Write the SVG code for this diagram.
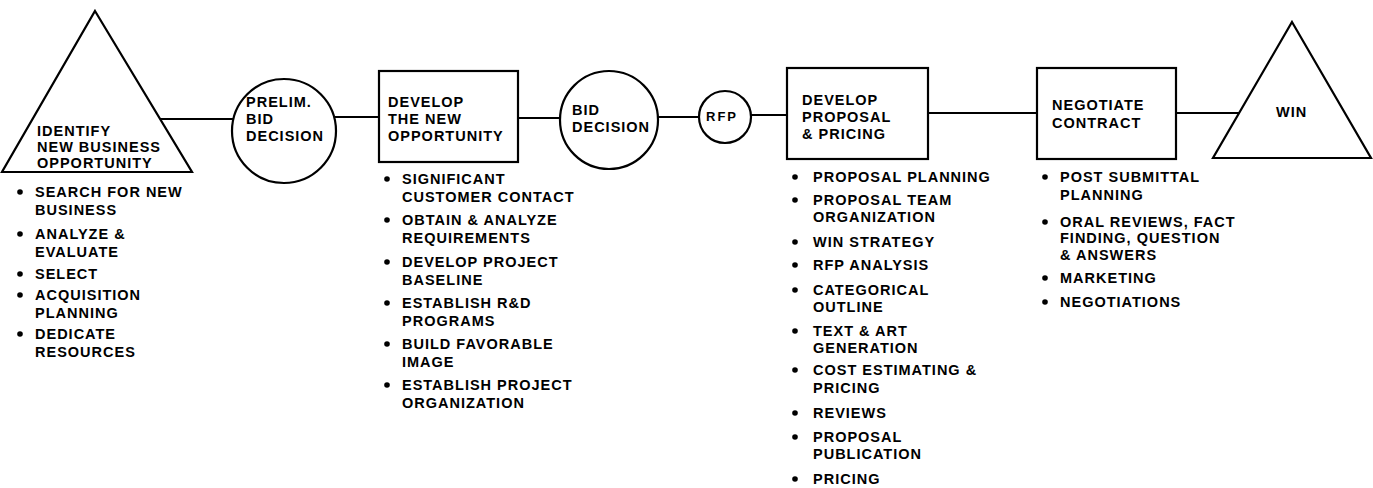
<svg xmlns="http://www.w3.org/2000/svg" width="1373" height="488" viewBox="0 0 1373 488">
<style>
.s{fill:#fff;stroke:#000;stroke-width:2.2}
.c{stroke:#000;stroke-width:2;fill:none}
text{font-family:"Liberation Sans",Arial,sans-serif;font-weight:bold;font-size:14.5px;letter-spacing:1px;fill:#000}
.b{fill:#000}
</style>
<rect width="1373" height="488" fill="#fff"/>
<g id="connectors">
<line class="c" x1="150" y1="119" x2="240" y2="119"/>
<line class="c" x1="325" y1="117" x2="380" y2="117"/>
<line class="c" x1="518" y1="118" x2="565" y2="118"/>
<line class="c" x1="650" y1="117" x2="705" y2="117"/>
<line class="c" x1="745" y1="115" x2="788" y2="115"/>
<line class="c" x1="928" y1="113" x2="1038" y2="113"/>
<line class="c" x1="1176" y1="113" x2="1245" y2="113"/>
</g>
<g id="identify">
<polygon class="s" points="95,11 192,172 2,172"/>
<text x="37" y="136">IDENTIFY</text>
<text x="37" y="152">NEW BUSINESS</text>
<text x="37" y="168">OPPORTUNITY</text>
</g>
<g id="identify-list">
<circle class="b" cx="20" cy="192" r="2.8"/><text x="35" y="197">SEARCH FOR NEW</text><text x="35" y="215">BUSINESS</text>
<circle class="b" cx="20" cy="234" r="2.8"/><text x="35" y="239">ANALYZE &amp;</text><text x="35" y="257">EVALUATE</text>
<circle class="b" cx="20" cy="274" r="2.8"/><text x="35" y="279">SELECT</text>
<circle class="b" cx="20" cy="295" r="2.8"/><text x="35" y="300">ACQUISITION</text><text x="35" y="318">PLANNING</text>
<circle class="b" cx="20" cy="334" r="2.8"/><text x="35" y="339">DEDICATE</text><text x="35" y="357">RESOURCES</text>
</g>
<g id="prelim">
<circle class="s" cx="284" cy="131" r="52"/>
<text x="246" y="107">PRELIM.</text>
<text x="246" y="124">BID</text>
<text x="246" y="141">DECISION</text>
</g>
<g id="develop-opportunity">
<rect class="s" x="379" y="71" width="139" height="91"/>
<text x="388" y="107">DEVELOP</text>
<text x="388" y="124">THE NEW</text>
<text x="388" y="141">OPPORTUNITY</text>
</g>
<g id="develop-opportunity-list">
<circle class="b" cx="387" cy="179" r="2.8"/><text x="402" y="184">SIGNIFICANT</text><text x="402" y="202">CUSTOMER CONTACT</text>
<circle class="b" cx="387" cy="220" r="2.8"/><text x="402" y="225">OBTAIN &amp; ANALYZE</text><text x="402" y="243">REQUIREMENTS</text>
<circle class="b" cx="387" cy="262" r="2.8"/><text x="402" y="267">DEVELOP PROJECT</text><text x="402" y="285">BASELINE</text>
<circle class="b" cx="387" cy="303" r="2.8"/><text x="402" y="308">ESTABLISH R&amp;D</text><text x="402" y="326">PROGRAMS</text>
<circle class="b" cx="387" cy="344" r="2.8"/><text x="402" y="349">BUILD FAVORABLE</text><text x="402" y="367">IMAGE</text>
<circle class="b" cx="387" cy="385" r="2.8"/><text x="402" y="390">ESTABLISH PROJECT</text><text x="402" y="408">ORGANIZATION</text>
</g>
<g id="bid-decision">
<circle class="s" cx="609" cy="120" r="49"/>
<text x="572" y="115">BID</text>
<text x="572" y="132">DECISION</text>
</g>
<g id="rfp">
<circle class="s" cx="725" cy="117" r="26"/>
<text x="706" y="121" style="font-size:13px;letter-spacing:2px">RFP</text>
</g>
<g id="develop-proposal">
<rect class="s" x="787" y="68" width="141" height="91"/>
<text x="802" y="105">DEVELOP</text>
<text x="802" y="122">PROPOSAL</text>
<text x="802" y="139">&amp; PRICING</text>
</g>
<g id="develop-proposal-list">
<circle class="b" cx="795" cy="177" r="2.8"/><text x="813" y="182">PROPOSAL PLANNING</text>
<circle class="b" cx="795" cy="200" r="2.8"/><text x="813" y="205">PROPOSAL TEAM</text><text x="813" y="222">ORGANIZATION</text>
<circle class="b" cx="795" cy="242" r="2.8"/><text x="813" y="247">WIN STRATEGY</text>
<circle class="b" cx="795" cy="265" r="2.8"/><text x="813" y="270">RFP ANALYSIS</text>
<circle class="b" cx="795" cy="290" r="2.8"/><text x="813" y="295">CATEGORICAL</text><text x="813" y="312">OUTLINE</text>
<circle class="b" cx="795" cy="331" r="2.8"/><text x="813" y="336">TEXT &amp; ART</text><text x="813" y="353">GENERATION</text>
<circle class="b" cx="795" cy="370" r="2.8"/><text x="813" y="375">COST ESTIMATING &amp;</text><text x="813" y="393">PRICING</text>
<circle class="b" cx="795" cy="413" r="2.8"/><text x="813" y="418">REVIEWS</text>
<circle class="b" cx="795" cy="437" r="2.8"/><text x="813" y="442">PROPOSAL</text><text x="813" y="459">PUBLICATION</text>
<circle class="b" cx="795" cy="479" r="2.8"/><text x="813" y="484">PRICING</text>
</g>
<g id="negotiate">
<rect class="s" x="1037" y="68" width="139" height="91"/>
<text x="1052" y="110">NEGOTIATE</text>
<text x="1052" y="128">CONTRACT</text>
</g>
<g id="negotiate-list">
<circle class="b" cx="1045" cy="177" r="2.8"/><text x="1060" y="182">POST SUBMITTAL</text><text x="1060" y="200">PLANNING</text>
<circle class="b" cx="1045" cy="222" r="2.8"/><text x="1060" y="227">ORAL REVIEWS, FACT</text><text x="1060" y="243">FINDING, QUESTION</text><text x="1060" y="260">&amp; ANSWERS</text>
<circle class="b" cx="1045" cy="278" r="2.8"/><text x="1060" y="283">MARKETING</text>
<circle class="b" cx="1045" cy="302" r="2.8"/><text x="1060" y="307">NEGOTIATIONS</text>
</g>
<g id="win">
<polygon class="s" points="1292,22 1371,158 1213,158"/>
<text x="1276" y="117">WIN</text>
</g>
</svg>
